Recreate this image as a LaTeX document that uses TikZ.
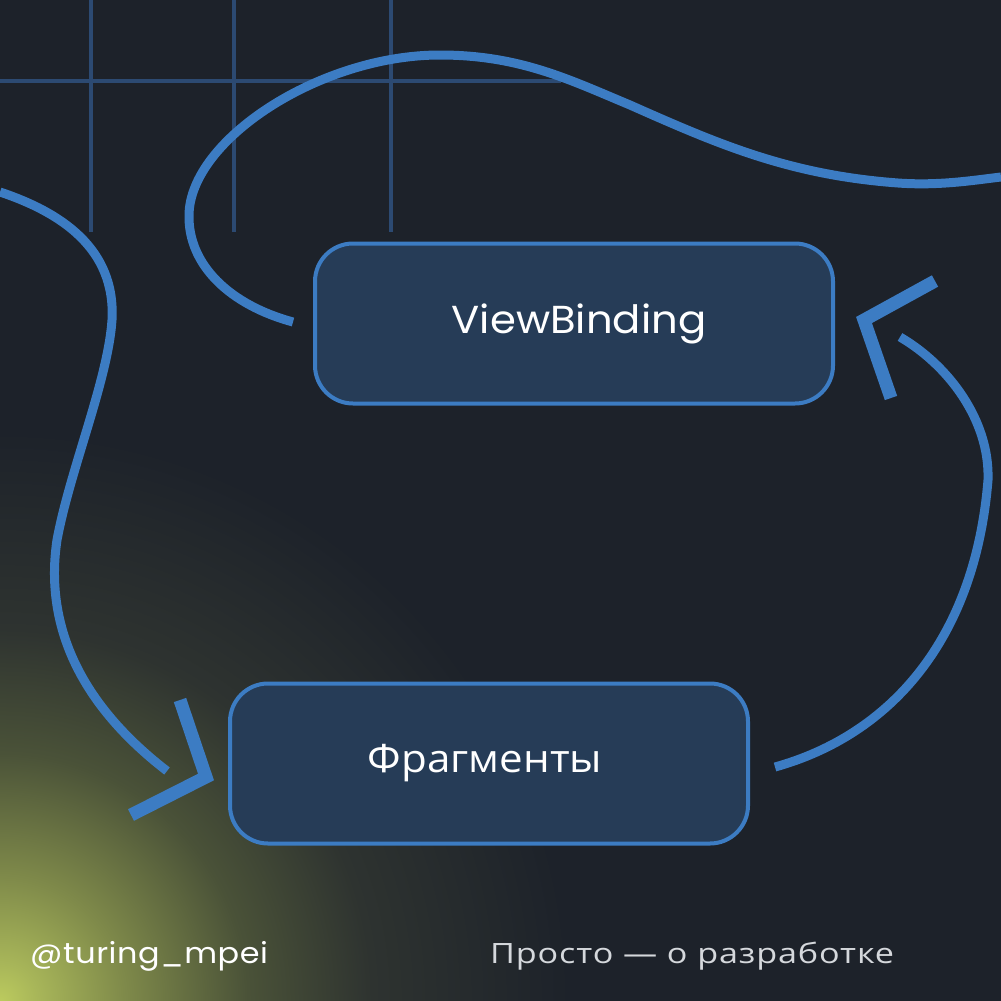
\documentclass[tikz,border=0pt]{standalone}
\usepackage{fontspec}
\setmainfont{Open Sans}
\newfontfamily\latinf[FakeStretch=1.07]{Poppins}
\newfontfamily\latinfoot[FakeStretch=1.1,LetterSpace=2]{Poppins}
\newfontfamily\cyrf[FakeStretch=1.08]{Open Sans}
\newfontfamily\cyrfoot[FakeStretch=1.22,LetterSpace=3]{Open Sans}
\usetikzlibrary{calc}
\definecolor{bgc}{HTML}{1D222A}
\definecolor{boxfill}{HTML}{263C57}
\definecolor{blueline}{HTML}{3C7CC3}
\definecolor{gridc}{HTML}{2C4A72}
\definecolor{subtext}{HTML}{D5D8DC}
\definecolor{glA}{HTML}{BCCB5E}
\definecolor{glB}{HTML}{A8B659}
\definecolor{glC}{HTML}{7F8A4A}
\definecolor{glD}{HTML}{4A5238}
\definecolor{glE}{HTML}{2E3330}
\pgfdeclareradialshading{glow}{\pgfpoint{0bp}{0bp}}{color(0bp)=(glA); color(1.5bp)=(glB); color(5bp)=(glC); color(10bp)=(glD); color(15bp)=(glE); color(23bp)=(bgc); color(50bp)=(bgc)}
\tikzset{
  boxnode/.style={draw=blueline, fill=boxfill, line width=4pt, rounded corners=38pt,
    minimum width=518pt, minimum height=160pt, inner sep=0pt, text=white},
  gridline/.style={draw=gridc, line width=4pt},
  flow/.style={draw=blueline, line width=9pt},
  chevron/.style={draw=blueline, line width=13pt, miter limit=10},
}
\begin{document}
\begin{tikzpicture}[x=1pt,y=-1pt]
\useasboundingbox (0,0) rectangle (1001,1001);
\fill[bgc] (0,0) rectangle (1001,1001);
\begin{scope}
  \clip (0,0) rectangle (1001,1001);
  \shade[shading=glow] (0,1001) circle (620);
\end{scope}
% grid
\draw[gridline] (91,0) -- (91,232);
\draw[gridline] (234,0) -- (234,232);
\draw[gridline] (391,0) -- (391,232);
\draw[gridline] (0,81) -- (561,81);
% boxes
\node[boxnode, font={\latinf\fontsize{39}{44}\selectfont}] (vb) at (574,323.5) {\hspace*{10pt}ViewBinding};
\node[boxnode, font={\cyrf\fontsize{39}{44}\selectfont}] (fr) at (489,763.5) {Фрагменты\hspace*{8pt}};
% connector coordinates
\coordinate (lstart) at (0,192);
\coordinate (lend) at ($(fr.west)+(-61,7.5)$);
\coordinate (tstart) at ($(vb.west)+(-20,-1.5)$);
\coordinate (tend) at (1001,177);
\coordinate (rstart) at ($(fr.east)+(25,3.5)$);
\coordinate (rend) at ($(vb.east)+(65,13.5)$);
% left flow into Fragments
\draw[flow] (lstart) .. controls (60,212) and (116,248) .. (112,320)
  .. controls (108,380) and (70,470) .. (57,540)
  .. controls (45,620) and (75,700) .. (lend);
\draw[chevron] (180,700) -- (206,777) -- (131,815);
% top flow out of ViewBinding
\draw[flow] (tstart) .. controls (230,305) and (188,265) .. (189,215)
  .. controls (190,140) and (320,55) .. (440,55)
  .. controls (520,55) and (570,80) .. (630,105)
  .. controls (720,145) and (790,175) .. (898,183)
  .. controls (940,186) and (975,180) .. (tend);
% right flow from Fragments to ViewBinding
\draw[flow] (rstart) .. controls (890,735) and (975,640) .. (988,480)
  .. controls (990,420) and (948,365) .. (rend);
\draw[chevron] (935,281) -- (864,320) -- (891,398);
% footer
\node[anchor=base west, inner sep=0pt, text=white, font={\latinfoot\fontsize{29}{32}\selectfont}] (handle) at (30,963) {@turing\_mpei};
\node[anchor=base west, inner sep=0pt, text=subtext, font={\cyrfoot\fontsize{28}{32}\selectfont}] (slogan) at (490,963) {Просто — о разработке};
\end{tikzpicture}
\end{document}
